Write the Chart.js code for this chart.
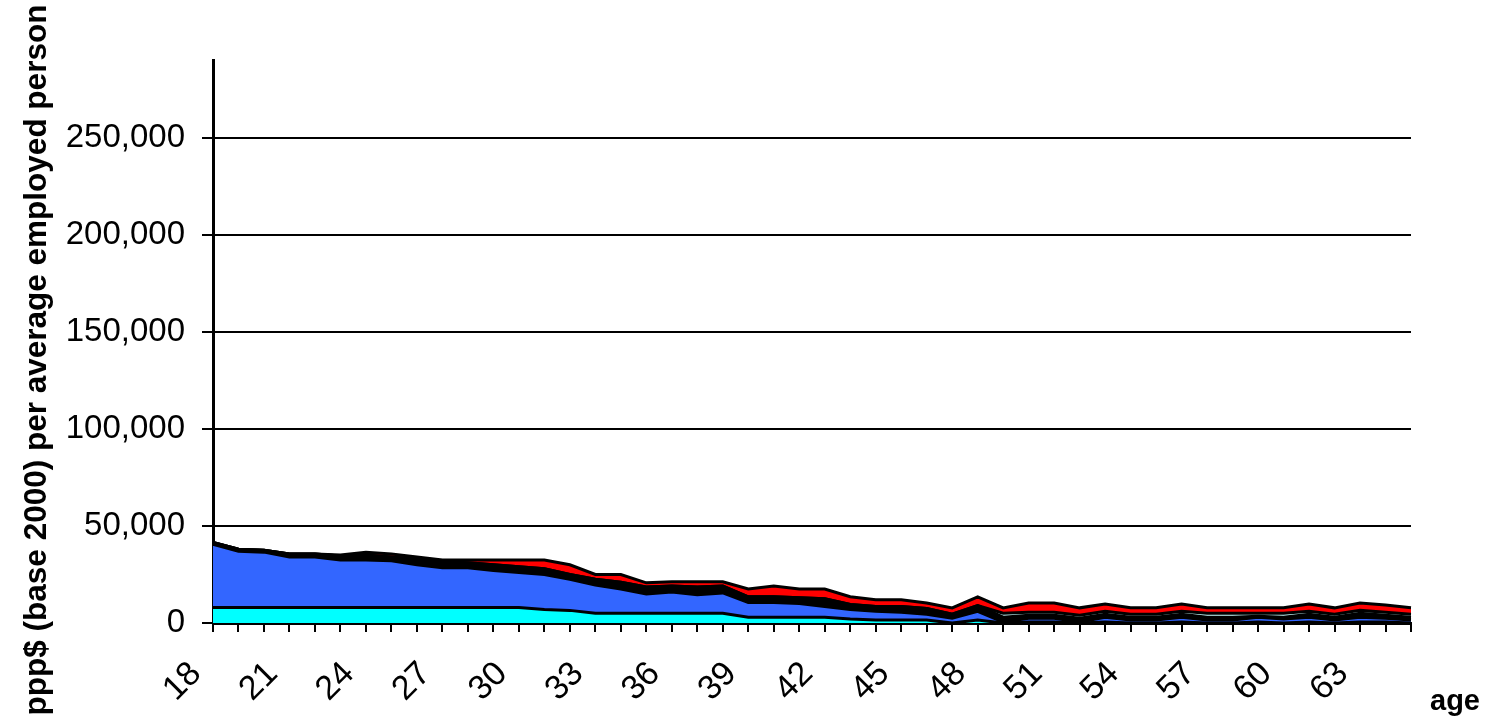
<!DOCTYPE html>
<html>
<head>
<meta charset="utf-8">
<script src="https://cdn.jsdelivr.net/npm/chart.js@4/dist/chart.umd.min.js"></script>
<style>
  body { margin: 0; background: #fff; }
  #wrap { width: 1491px; height: 728px; }
</style>
</head>
<body>
<div id="wrap"><canvas id="AreaItem"></canvas></div>
<script>
const ages = ['18','19','20','21','22','23','24','25','26','27','28','29','30','31','32','33',
  '34','35','36','37','38','39','40','41','42','43','44','45','46','47','48','49',
  '50','51','52','53','54','55','56','57','58','59','60','61','62','63','64','65'];

const cyanPart = [8000,8000,8000,8000,8000,8000,8000,8000,8000,8000,8000,8000,8000,7000,6500,5000,
  5000,5000,5000,5000,5000,3000,3000,3000,3000,2000,1500,1500,1500,0,1500,0,
  500,500,0,500,0,0,500,0,0,500,0,500,0,500,500,0];
const bluePart = [32500,29000,28500,26000,26000,24500,24500,24000,22000,20500,20500,19000,18000,18000,16000,14500,
  12500,10000,11000,9500,10500,7500,7500,7000,5500,5000,4500,4000,3000,2500,4500,500,
  2000,2000,500,2500,1500,1500,2500,1500,1500,2500,2000,2500,1500,2500,2000,1500];
const blackPart = [1000,1000,1000,1500,1500,2000,2500,2000,3000,3000,2500,3000,3000,3000,2500,3000,
  3500,3500,3000,4000,3500,3000,3000,3000,4000,2500,2500,3000,3000,2000,3000,2500,
  1500,1500,2000,1500,1500,1500,1500,1500,1500,500,1000,1500,1500,2000,1500,1500];
const paleCyanPart = [0,0,0,0,0,0,0,0,0,0,0,0,0,0,0,0,
  0,0,0,0,0,0,0,0,0,0,0,0,0,0,0,2000,
  1500,1500,1500,1500,1500,1500,1500,2000,2000,1500,2000,1500,1500,1500,1500,1500];
const redPart = [0,0,0,0,0,500,1500,1500,1000,1000,1500,2500,3500,4500,5000,2500,
  4000,2200,2200,2700,2200,4000,5500,4500,5000,4000,3500,3500,2800,3300,4500,2800,
  4800,4800,3800,3800,3300,3300,3800,2800,2800,2800,2800,3800,3300,3800,3800,3300];

const yTicks = [0, 50000, 100000, 150000, 200000, 250000];
const yMax = 290000;

const FONT = 'Liberation Sans, Arial, sans-serif';

function layer(data, color, fill) {
  return {
    data: data,
    backgroundColor: color,
    borderColor: '#000000',
    borderWidth: 3,
    pointRadius: 0,
    tension: 0,
    fill: fill
  };
}

// axis titles sit where the original had them, not centred on the plot
const axisTitles = {
  id: 'axisTitles',
  afterDraw(chart) {
    const ctx = chart.ctx;
    ctx.save();
    ctx.fillStyle = '#000';
    ctx.font = 'bold 31.5px ' + FONT;
    ctx.textAlign = 'center';
    ctx.textBaseline = 'alphabetic';
    ctx.translate(46, 360);
    ctx.rotate(-Math.PI / 2);
    ctx.fillText('ppp$ (base 2000) per average employed person', 0, 0);
    ctx.restore();

    ctx.save();
    ctx.fillStyle = '#000';
    ctx.font = 'bold 29px ' + FONT;
    ctx.textAlign = 'left';
    ctx.textBaseline = 'alphabetic';
    ctx.fillText('age', 1430, 710);
    ctx.restore();
  }
};

const config = {
  type: 'line',
  data: {
    labels: ages,
    datasets: [
      layer(cyanPart, '#00FFFF', 'origin'),
      layer(bluePart, '#3366FF', '-1'),
      layer(blackPart, '#000000', '-1'),
      layer(paleCyanPart, '#CCFFFF', '-1'),
      layer(redPart, '#FF0000', '-1')
    ]
  },
  options: {
    responsive: true,
    maintainAspectRatio: false,
    animation: false,
    layout: { padding: { top: 60, right: 80, left: 0, bottom: 0 } },
    plugins: {
      legend: { display: false },
      tooltip: { enabled: false }
    },
    scales: {
      x: {
        offset: false,
        grid: { drawOnChartArea: false, drawTicks: true, tickLength: 9, color: '#000', lineWidth: 2 },
        border: { display: true, color: '#000', width: 3 },
        ticks: {
          autoSkip: false,
          maxRotation: 45,
          minRotation: 45,
          padding: 22,
          labelOffset: -17,
          color: '#000',
          font: { family: FONT, size: 34 },
          callback: function (value, index) {
            return index % 3 === 0 ? this.getLabelForValue(value) : '';
          }
        },
        afterFit(scale) { scale.height = 105; }
      },
      y: {
        stacked: true,
        min: 0,
        max: yMax,
        afterBuildTicks(scale) {
          scale.ticks = yTicks.map(v => ({ value: v }));
        },
        grid: { color: '#000', lineWidth: 2, tickLength: 11 },
        border: { display: true, color: '#000', width: 3 },
        ticks: {
          padding: 17,
          color: '#000',
          font: { family: FONT, size: 33 }
        },
        afterFit(scale) { scale.width = 213; }
      }
    }
  },
  plugins: [axisTitles]
};

new Chart(document.getElementById('AreaItem'), config);
</script>
</body>
</html>
